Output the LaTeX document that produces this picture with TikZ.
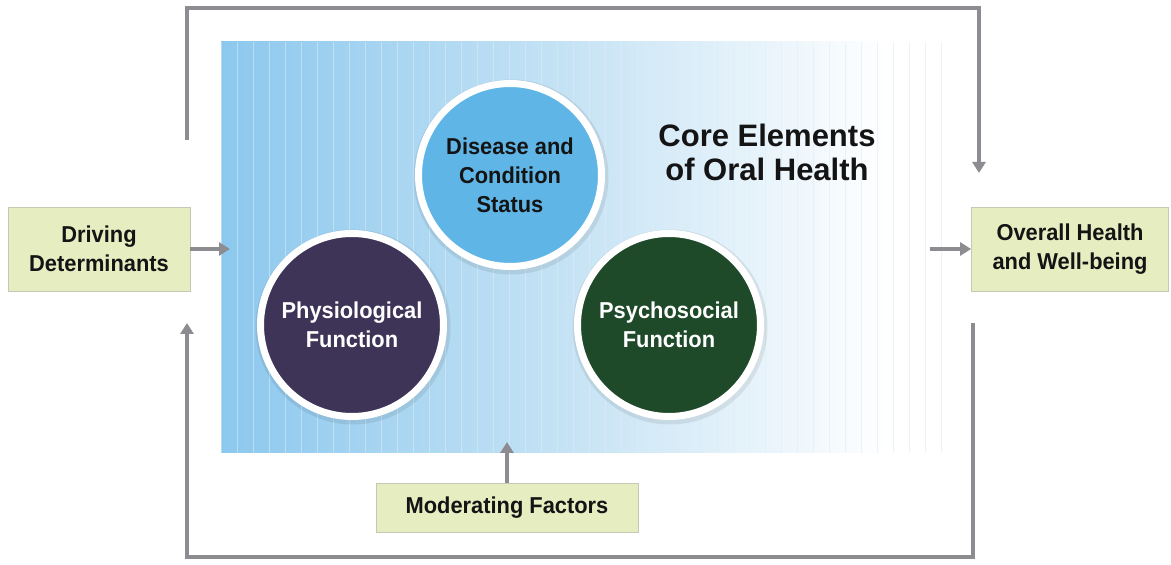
\documentclass[tikz,border=0pt]{standalone}
\usepackage{fontspec}
\setmainfont{Liberation Sans}
\newfontfamily\condfont[FakeStretch=0.95]{Liberation Sans}
\usetikzlibrary{arrows.meta}
\definecolor{custom-light}{RGB}{140, 200, 238}
\definecolor{custom-mid}{RGB}{200, 228, 245}
\definecolor{custom-stripe}{RGB}{222, 236, 246}
\definecolor{custom-box}{RGB}{229, 237, 193}
\definecolor{custom-edge}{RGB}{198, 200, 182}
\definecolor{custom-gray}{RGB}{140, 140, 145}
\definecolor{custom-sky}{RGB}{95, 182, 230}
\definecolor{custom-purple}{RGB}{62, 52, 88}
\definecolor{custom-forest}{RGB}{30, 74, 42}
\definecolor{custom-ink}{RGB}{20, 20, 20}
\pgfdeclarehorizontalshading{core-shade}{100bp}{color(0bp)=(custom-light); color(25bp)=(custom-light); color(50bp)=(custom-mid); color(71bp)=(white); color(100bp)=(white)}

\begin{document}
\begin{tikzpicture}[x=1pt, y=1pt,
    textbox/.style={draw=custom-edge, line width=0.8pt, fill=custom-box, minimum height=84pt, align=center, text=custom-ink, font=\condfont\bfseries\fontsize{23}{29}\selectfont},
    element/.style={circle, draw=white, line width=7pt, minimum size=183pt, align=center, font=\condfont\bfseries\fontsize{23}{29}\selectfont},
    connector/.style={draw=custom-gray, line width=4.5pt},
    arrowtip/.style={-{Triangle[length=11pt,width=13pt]}}]
\useasboundingbox (0,0) rectangle (1171,565);
\fill[white] (0,0) rectangle (1171,565);

% core panel
\fill[shading=core-shade] (221,112) rectangle (945,523);
\foreach \i in {0,...,45}
  \draw[custom-stripe, opacity=0.55, line width=0.8pt] (221+16*\i,112) -- (221+16*\i,523);

% circle shadows
\fill[black, opacity=0.08] (511,388) circle (97.5);
\fill[black, opacity=0.08] (353,238) circle (97.5);
\fill[black, opacity=0.08] (670,238) circle (97.5);

\node[element, fill=custom-sky, text=custom-ink] (disease) at (510,390) {Disease and\\Condition\\Status};
\node[element, fill=custom-purple, text=white] (physio) at (352,240) {Physiological\\Function};
\node[element, fill=custom-forest, text=white] (psycho) at (669,240) {Psychosocial\\Function};
\node[font=\bfseries\fontsize{31}{34}\selectfont, align=center, text=custom-ink] (core) at (767,413) {Core Elements\\of Oral Health};

\node[textbox, minimum width=182pt] (driving) at (99,316) {Driving\\Determinants};
\node[textbox, minimum width=197pt] (overall) at (1070,316) {Overall Health\\and Well-being};
\node[textbox, minimum width=262pt, minimum height=49pt] (moderating) at (507,57) {Moderating Factors};

\coordinate (frame-top-start) at (187,425);
\coordinate (frame-top-left) at (187,557);
\coordinate (frame-top-right) at (979,557);
\coordinate (frame-top-end) at (979,392);
\coordinate (frame-bot-start) at (973,242);
\coordinate (frame-bot-right) at (973,8);
\coordinate (frame-bot-left) at (187,8);
\coordinate (frame-bot-end) at (187,242);
\coordinate (panel-in) at (230,316);
\coordinate (panel-out) at (930,316);
\coordinate (panel-bottom) at (507,123);

\draw[connector, arrowtip] (driving.east) -- (panel-in);
\draw[connector, arrowtip] (panel-out) -- (overall.west);
\draw[connector, arrowtip] (moderating.north) -- (panel-bottom);
\draw[connector, arrowtip, line join=miter] (frame-top-start) -- (frame-top-left) -- (frame-top-right) -- (frame-top-end);
\draw[connector, arrowtip, line join=miter] (frame-bot-start) -- (frame-bot-right) -- (frame-bot-left) -- (frame-bot-end);
\end{tikzpicture}
\end{document}
